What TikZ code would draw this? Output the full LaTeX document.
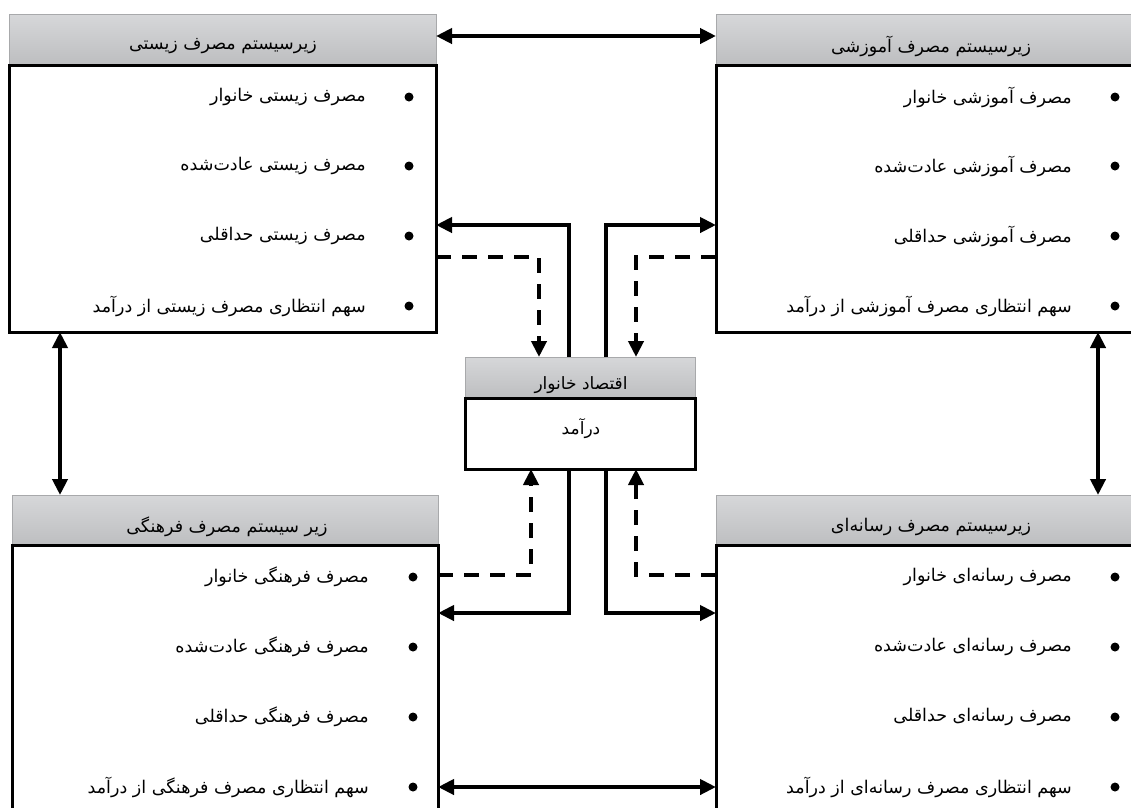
\documentclass[tikz,border=0pt]{standalone}
\usepackage{fontspec}
\newfontfamily\fa[Script=Arabic]{DejaVu Sans}
\TeXXeTstate=1
\usetikzlibrary{arrows.meta}
\definecolor{hdrtop}{HTML}{D6D7D9}
\definecolor{hdrbot}{HTML}{BDBEC0}
\definecolor{hdredge}{HTML}{A8A9AB}
\begin{document}
\begin{tikzpicture}[x=1pt,y=-1pt,
  hdr/.style={draw=hdredge, line width=1pt, top color=hdrtop, bottom color=hdrbot, inner sep=0, outer sep=0},
  bodybox/.style={draw=black, line width=3pt, fill=white, inner sep=0, outer sep=0},
  item/.style={anchor=east, inner sep=0, font=\fa\fontsize{17.5}{20}\selectfont},
  htext/.style={inner sep=0, font=\fa\fontsize{17.5}{20}\selectfont},
  ctext/.style={inner sep=0, font=\fa\fontsize{17}{19}\selectfont},
  bul/.style={circle, fill=black, inner sep=0, minimum size=9},
  tip/.tip={Triangle[length=16pt,width=15pt]},
  arr/.style={line width=4.2pt, -tip},
  darr/.style={line width=4.2pt, dash pattern=on 15pt off 11pt, -tip},
  dbl/.style={line width=4.5pt, tip-tip}]
\useasboundingbox (0,0) rectangle (1131,807);
\clip (0,0) rectangle (1131,807);
% coordinates
\coordinate (c1) at (569,0);
\coordinate (c2) at (606,0);
\coordinate (d1) at (539,0);
\coordinate (d2) at (636,0);
\coordinate (d3) at (531,0);
\coordinate (lx) at (60,0);
\coordinate (rx) at (1098,0);
\coordinate (r36) at (0,36);
\coordinate (r225) at (0,225);
\coordinate (r257) at (0,257);
\coordinate (r575) at (0,575);
\coordinate (r613) at (0,613);
\coordinate (r787) at (0,787);
% top-left
\node[hdr, minimum width=427, minimum height=51] (tlh) at (222.5,39.5) {};
\node[bodybox, minimum width=427, minimum height=267] (tlb) at (222.5,198.5) {};
% top-right
\node[hdr, minimum width=424, minimum height=51] (trh) at (928,39.5) {};
\node[bodybox, minimum width=424, minimum height=267] (trb) at (928,198.5) {};
% bottom-left
\node[hdr, minimum width=426, minimum height=50] (blh) at (225,520) {};
\node[bodybox, minimum width=426, minimum height=290] (blb) at (225,690) {};
% bottom-right
\node[hdr, minimum width=424, minimum height=50] (brh) at (928,520) {};
\node[bodybox, minimum width=424, minimum height=290] (brb) at (928,690) {};
% center
\node[hdr, minimum width=230, minimum height=41] (ch) at (580,377.5) {};
\node[bodybox, minimum width=230, minimum height=71] (cb) at (580,433.5) {};
% header texts
\node[htext] (tlt) at (223,46) {\beginR زیرسیستم مصرف زیستی\endR};
\node[htext] (trt) at (931,46) {\beginR زیرسیستم مصرف آموزشی\endR};
\node[htext] (blt) at (227,527) {\beginR زیر سیستم مصرف فرهنگی\endR};
\node[htext] (brt) at (931,527) {\beginR زیرسیستم مصرف رسانه‌ای\endR};
\node[ctext] (cht) at (581,385) {\beginR اقتصاد خانوار\endR};
\node[ctext] (cbt) at (581,429) {\beginR درآمد\endR};
% top-left items
\node[bul] (tlb1) at (409,97) {};
\node[bul] (tlb2) at (409,166) {};
\node[bul] (tlb3) at (409,236) {};
\node[bul] (tlb4) at (409,306) {};
\node[item] (tli1) at (366,97) {\beginR مصرف زیستی خانوار\endR};
\node[item] (tli2) at (366,166) {\beginR مصرف زیستی عادت‌شده\endR};
\node[item] (tli3) at (366,236) {\beginR مصرف زیستی حداقلی\endR};
\node[item] (tli4) at (366,306) {\beginR سهم انتظاری مصرف زیستی از درآمد\endR};
% top-right items
\node[bul] (trb1) at (1115,97) {};
\node[bul] (trb2) at (1115,166) {};
\node[bul] (trb3) at (1115,236) {};
\node[bul] (trb4) at (1115,306) {};
\node[item] (tri1) at (1072,97) {\beginR مصرف آموزشی خانوار\endR};
\node[item] (tri2) at (1072,166) {\beginR مصرف آموزشی عادت‌شده\endR};
\node[item] (tri3) at (1072,236) {\beginR مصرف آموزشی حداقلی\endR};
\node[item] (tri4) at (1072,306) {\beginR سهم انتظاری مصرف آموزشی از درآمد\endR};
% bottom-left items
\node[bul] (blb1) at (413,577) {};
\node[bul] (blb2) at (413,647) {};
\node[bul] (blb3) at (413,717) {};
\node[bul] (blb4) at (413,787) {};
\node[item] (bli1) at (369,577) {\beginR مصرف فرهنگی خانوار\endR};
\node[item] (bli2) at (369,647) {\beginR مصرف فرهنگی عادت‌شده\endR};
\node[item] (bli3) at (369,717) {\beginR مصرف فرهنگی حداقلی\endR};
\node[item] (bli4) at (369,787) {\beginR سهم انتظاری مصرف فرهنگی از درآمد\endR};
% bottom-right items
\node[bul] (brb1) at (1115,577) {};
\node[bul] (brb2) at (1115,647) {};
\node[bul] (brb3) at (1115,717) {};
\node[bul] (brb4) at (1115,787) {};
\node[item] (bri1) at (1072,577) {\beginR مصرف رسانه‌ای خانوار\endR};
\node[item] (bri2) at (1072,647) {\beginR مصرف رسانه‌ای عادت‌شده\endR};
\node[item] (bri3) at (1072,717) {\beginR مصرف رسانه‌ای حداقلی\endR};
\node[item] (bri4) at (1072,787) {\beginR سهم انتظاری مصرف رسانه‌ای از درآمد\endR};
% outer double arrows
\draw[dbl] (tlh.east |- r36) -- (trh.west |- r36);
\draw[dbl] (tlb.south -| lx) -- (blh.north -| lx);
\draw[dbl] (trb.south -| rx) -- (brh.north -| rx);
\draw[dbl] (blb.east |- r787) -- (brb.west |- r787);
% center connectors
\draw[arr] (ch.north -| c1) |- (tlb.east |- r225);
\draw[arr] (ch.north -| c2) |- (trb.west |- r225);
\draw[darr] (tlb.east |- r257) -| (ch.north -| d1);
\draw[darr] (trb.west |- r257) -| (ch.north -| d2);
\draw[arr] (cb.south -| c1) |- (blb.east |- r613);
\draw[arr] (cb.south -| c2) |- (brb.west |- r613);
\draw[darr] (blb.east |- r575) -| (cb.south -| d3);
\draw[darr] (brb.west |- r575) -| (cb.south -| d2);
\end{tikzpicture}
\end{document}
